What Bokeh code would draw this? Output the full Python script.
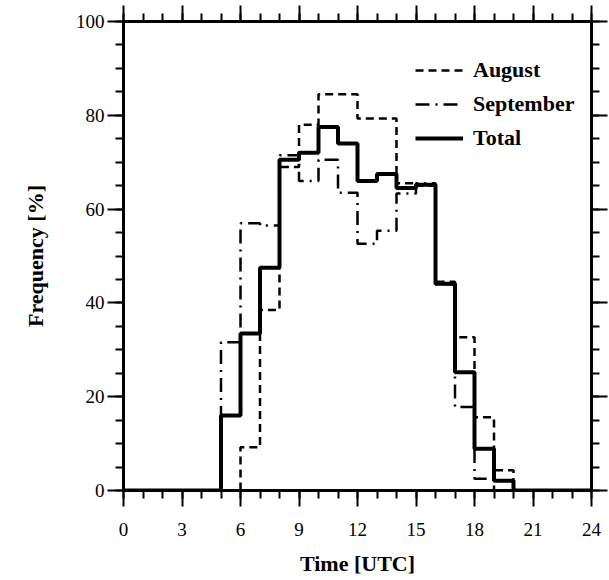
from bokeh.plotting import figure
from bokeh.models import LinearAxis, SingleIntervalTicker, Range1d, Legend, LegendItem
from bokeh.embed import file_html
from bokeh.resources import INLINE

# hour edges (0..24) and hourly frequencies [%]
hours = list(range(0, 25))
august = [0, 0, 0, 0, 0, 0, 9.2, 38.5, 69, 78, 84.5, 84.5, 79.3, 79.3,
          65.5, 65, 44.5, 32.7, 15.6, 4.3, 0, 0, 0, 0]
september = [0, 0, 0, 0, 0, 31.6, 57, 56.5, 71.5, 66, 70.5, 63.5, 52.6, 55.4,
             63.3, 65.5, 44, 17.8, 2.5, 0, 0, 0, 0, 0]
total = [0, 0, 0, 0, 0, 16, 33.5, 47.5, 70.5, 72, 77.5, 74, 66, 67.5,
         64.5, 65.2, 44.1, 25.2, 8.9, 2.1, 0, 0, 0, 0]
series_names = ["August", "September", "Total"]
x_label = "Time [UTC]"
y_label = "Frequency [%]"
x_tick_values = list(range(0, 25, 3))
y_tick_values = list(range(0, 101, 20))

FONT = "Liberation Serif"

p = figure(width=609, height=580, x_range=Range1d(0, 24), y_range=Range1d(0, 100),
           output_backend="svg", toolbar_location=None,
           min_border_left=123, min_border_right=18, min_border_top=21, min_border_bottom=90)
p.grid.visible = False
p.outline_line_color = "black"
p.outline_line_width = 3
p.background_fill_color = "white"
p.border_fill_color = "white"

def style_axis(ax, ticker, blank_ticks=None):
    ax.ticker = ticker
    ax.axis_line_width = 3
    ax.axis_line_color = "black"
    ax.major_tick_line_width = 2
    ax.minor_tick_line_width = 2
    ax.major_tick_in = 0
    ax.major_tick_out = 16
    ax.minor_tick_in = 0
    ax.minor_tick_out = 8
    ax.major_label_text_font = FONT
    ax.major_label_text_font_size = "19px"
    ax.major_label_text_color = "black"
    ax.axis_label_text_font = FONT
    ax.axis_label_text_font_size = "22px"
    ax.axis_label_text_font_style = "bold"
    ax.axis_label_text_color = "black"
    if blank_ticks is not None:
        ax.major_label_overrides = {v: "" for v in blank_ticks}
        ax.major_label_standoff = 0

xt = lambda: SingleIntervalTicker(interval=3, num_minor_ticks=3)
yt = lambda: SingleIntervalTicker(interval=20, num_minor_ticks=4)

style_axis(p.xaxis[0], xt())
style_axis(p.yaxis[0], yt())
p.xaxis[0].axis_label = x_label
p.yaxis[0].axis_label = y_label
p.xaxis[0].major_label_standoff = 16
p.xaxis[0].axis_label_standoff = 12
p.yaxis[0].major_label_standoff = 3
p.yaxis[0].axis_label_standoff = 25

top = LinearAxis()
style_axis(top, xt(), blank_ticks=x_tick_values)
p.add_layout(top, "above")
right = LinearAxis()
style_axis(right, yt(), blank_ticks=y_tick_values)
p.add_layout(right, "right")

r_aug = p.step(x=hours, y=august + [august[-1]], mode="after", line_color="black",
               line_width=2.5, line_dash="8 5")
r_sep = p.step(x=hours, y=september + [september[-1]], mode="after", line_color="black",
               line_width=2.5, line_dash="14 6 2 6")
r_tot = p.step(x=hours, y=total + [total[-1]], mode="after", line_color="black",
               line_width=4)

legend = Legend(items=[LegendItem(label=series_names[0], renderers=[r_aug]),
                       LegendItem(label=series_names[1], renderers=[r_sep]),
                       LegendItem(label=series_names[2], renderers=[r_tot])],
                location=(292, 339))
legend.border_line_color = None
legend.background_fill_alpha = 0
legend.padding = 0
legend.margin = 0
legend.spacing = 8
legend.glyph_width = 48
legend.glyph_height = 20
legend.label_height = 20
legend.label_standoff = 10
legend.label_text_font = FONT
legend.label_text_font_size = "22px"
legend.label_text_font_style = "bold"
legend.label_text_color = "black"
p.add_layout(legend, "center")

open("out.html", "w").write(file_html(p, INLINE))
